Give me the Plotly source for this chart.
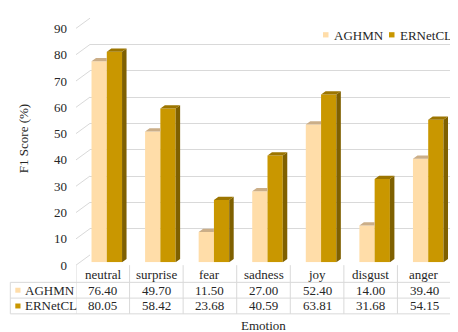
import plotly.graph_objects as go

# ---- data ----
categories = ["neutral", "surprise", "fear", "sadness", "joy", "disgust", "anger"]
aghmn = [76.40, 49.70, 11.50, 27.00, 52.40, 14.00, 39.40]
ernetcl = [80.05, 58.42, 23.68, 40.59, 63.81, 31.68, 54.15]
series_names = ["AGHMN", "ERNetCL"]
y_ticks = [0, 10, 20, 30, 40, 50, 60, 70, 80, 90]

# ---- style ----
W, H = 458, 332
FONT = "Liberation Serif, Times New Roman, serif"
TXT = "#262626"
GRID = "#D9D9D9"
C_A_FRONT, C_A_TOP = "#FFDDA9", "#CBAE88"
C_E_FRONT, C_E_SIDE, C_E_TOP = "#C99700", "#7F6000", "#9C7500"

def px(x):
    return x / W

def py(y):
    return 1 - y / H

n = len(categories)
xs = list(range(n))
BW = 0.285          # bar width in category units
DX = 4.5 / (375 / 7)  # bar depth (x) in data units
DY = 3.4 / (248 / 90)  # bar depth (y) in data units

fig = go.Figure()

# front faces
fig.add_trace(go.Bar(x=xs, y=aghmn, width=BW, offset=-BW, marker=dict(color=C_A_FRONT, line=dict(width=0)),
                     xaxis="x3", yaxis="y3", name=series_names[0], showlegend=False))
fig.add_trace(go.Bar(x=xs, y=ernetcl, width=BW, offset=0, marker=dict(color=C_E_FRONT, line=dict(width=0)),
                     xaxis="x3", yaxis="y3", name=series_names[1], showlegend=False))

# AGHMN top faces (clipped where ERNetCL front covers)
tx, ty = [], []
for i, v in zip(xs, aghmn):
    xl, xr = i - BW, i
    tx += [xl, xl + DX, xr, xr, xl, None]
    ty += [v, v + DY, v + DY, v, v, None]
fig.add_trace(go.Scatter(x=tx, y=ty, fill="toself", fillcolor=C_A_TOP, mode="lines", line=dict(width=0),
                         xaxis="x3", yaxis="y3", showlegend=False, hoverinfo="skip"))

# ERNetCL side faces
sx, sy = [], []
for i, v in zip(xs, ernetcl):
    xr = i + BW
    sx += [xr, xr + DX, xr + DX, xr, xr, None]
    sy += [0, DY, v + DY, v, 0, None]
fig.add_trace(go.Scatter(x=sx, y=sy, fill="toself", fillcolor=C_E_SIDE, mode="lines", line=dict(width=0),
                         xaxis="x3", yaxis="y3", showlegend=False, hoverinfo="skip"))

# ERNetCL top faces
tx, ty = [], []
for i, v in zip(xs, ernetcl):
    xl, xr = i, i + BW
    tx += [xl, xl + DX, xr + DX, xr, xl, None]
    ty += [v, v + DY, v + DY, v, v, None]
fig.add_trace(go.Scatter(x=tx, y=ty, fill="toself", fillcolor=C_E_TOP, mode="lines", line=dict(width=0),
                         xaxis="x3", yaxis="y3", showlegend=False, hoverinfo="skip"))

# invisible traces so the back wall and front label axes are drawn
fig.add_trace(go.Scatter(x=[None], y=[None], xaxis="x", yaxis="y", showlegend=False))
fig.add_trace(go.Scatter(x=[None], y=[None], xaxis="x2", yaxis="y2", showlegend=False))

# plane geometry (pixels)
FX0, FX1, FY0, FY90 = 68, 443, 262, 14      # front plane
KX0, KX1, KY0, KY90 = 82, 457, 251.3, 3.3   # back wall
BX0, BX1, BY0, BY90 = 72, 447, 259, 11      # bar plane

fig.update_layout(
    width=W, height=H,
    margin=dict(l=0, r=0, t=0, b=0),
    paper_bgcolor="white", plot_bgcolor="rgba(0,0,0,0)",
    showlegend=False,
    barmode="overlay",
    font=dict(family=FONT, size=13, color=TXT),
    # back wall (gridlines)
    xaxis=dict(domain=[px(KX0), px(KX1)], range=[0, 1], visible=False, anchor="y"),
    yaxis=dict(domain=[py(KY0), py(KY90)], range=[0, 90], tickvals=y_ticks, showgrid=True,
               gridcolor=GRID, gridwidth=1, showticklabels=False, zeroline=False, showline=False,
               ticks="", anchor="x"),
    # front plane (tick labels, table)
    xaxis2=dict(domain=[px(FX0), px(FX1)], range=[-0.5, n - 0.5], visible=False, anchor="y2"),
    yaxis2=dict(domain=[py(FY0), py(FY90)], range=[0, 90], tickvals=y_ticks, showgrid=False,
                zeroline=False, showline=False, ticks="", anchor="x2",
                ticklabelstandoff=8, tickfont=dict(family=FONT, size=13, color=TXT)),
    # bar plane
    xaxis3=dict(domain=[px(BX0), px(BX1)], range=[-0.5, n - 0.5], visible=False, anchor="y3"),
    yaxis3=dict(domain=[py(BY0), py(BY90)], range=[0, 90], visible=False, anchor="x3"),
)

shapes = []
# slanted left-wall connectors
for v in y_ticks:
    yf = py(FY0) + v / 90 * (py(FY90) - py(FY0))
    yk = py(KY0) + v / 90 * (py(KY90) - py(KY0))
    shapes.append(dict(type="line", xref="paper", yref="paper", x0=px(FX0), y0=yf, x1=px(KX0), y1=yk,
                       line=dict(color=GRID, width=1)))

# data table
ROW_TOP, ROW1, ROW2, ROW3 = FY0, 280, 296.5, 313
LEFT = 2.3
for k in range(n + 1):
    shapes.append(dict(type="line", xref="x2", yref="paper", x0=k - 0.5, x1=k - 0.5,
                       y0=py(ROW_TOP), y1=py(ROW3), line=dict(color=GRID, width=1)))
for yy in (ROW1, ROW2, ROW3):
    shapes.append(dict(type="line", xref="paper", yref="paper", x0=px(LEFT), x1=px(FX1),
                       y0=py(yy), y1=py(yy), line=dict(color=GRID, width=1)))
shapes.append(dict(type="line", xref="paper", yref="paper", x0=px(LEFT), x1=px(LEFT),
                   y0=py(ROW1), y1=py(ROW3), line=dict(color=GRID, width=1)))

annotations = []
for i, c in enumerate(categories):
    annotations.append(dict(x=i, y=py((ROW_TOP + ROW1) / 2 + 1), xref="x2", yref="paper", text=c,
                            showarrow=False, xanchor="center", yanchor="middle"))
for row_vals, (r0, r1) in ((aghmn, (ROW1, ROW2)), (ernetcl, (ROW2, ROW3))):
    for i, v in enumerate(row_vals):
        annotations.append(dict(x=i, y=py((r0 + r1) / 2), xref="x2", yref="paper", text=f"{v:.2f}",
                                showarrow=False, xanchor="center", yanchor="middle"))
# table legend keys
for name, col, (r0, r1) in ((series_names[0], C_A_FRONT, (ROW1, ROW2)), (series_names[1], C_E_FRONT, (ROW2, ROW3))):
    ym = (r0 + r1) / 2
    shapes.append(dict(type="rect", xref="paper", yref="paper", x0=px(7.3), x1=px(12.5),
                       y0=py(ym + 2.6), y1=py(ym - 2.6), fillcolor=col, line=dict(width=0)))
    annotations.append(dict(x=px(14.5), y=py(ym), xref="paper", yref="paper", text=name,
                            showarrow=False, xanchor="left", yanchor="middle"))

# top legend
for name, col, sx0 in ((series_names[0], C_A_FRONT, 315), (series_names[1], C_E_FRONT, 381)):
    shapes.append(dict(type="rect", xref="paper", yref="paper", x0=px(sx0), x1=px(sx0 + 5.5),
                       y0=py(23.5), y1=py(18), fillcolor=col, line=dict(width=0)))
    annotations.append(dict(x=px(sx0 + 9), y=py(21), xref="paper", yref="paper", text=name,
                            showarrow=False, xanchor="left", yanchor="middle"))

# axis titles
annotations.append(dict(x=px(15), y=py(130), xref="paper", yref="paper", text="F1 Score (%)",
                        textangle=-90, showarrow=False, xanchor="center", yanchor="middle"))
annotations.append(dict(x=px((FX0 + FX1) / 2), y=py(325), xref="paper", yref="paper", text="Emotion",
                        showarrow=False, xanchor="center", yanchor="middle"))

fig.update_layout(shapes=shapes, annotations=annotations)
fig.write_html("out.html")
